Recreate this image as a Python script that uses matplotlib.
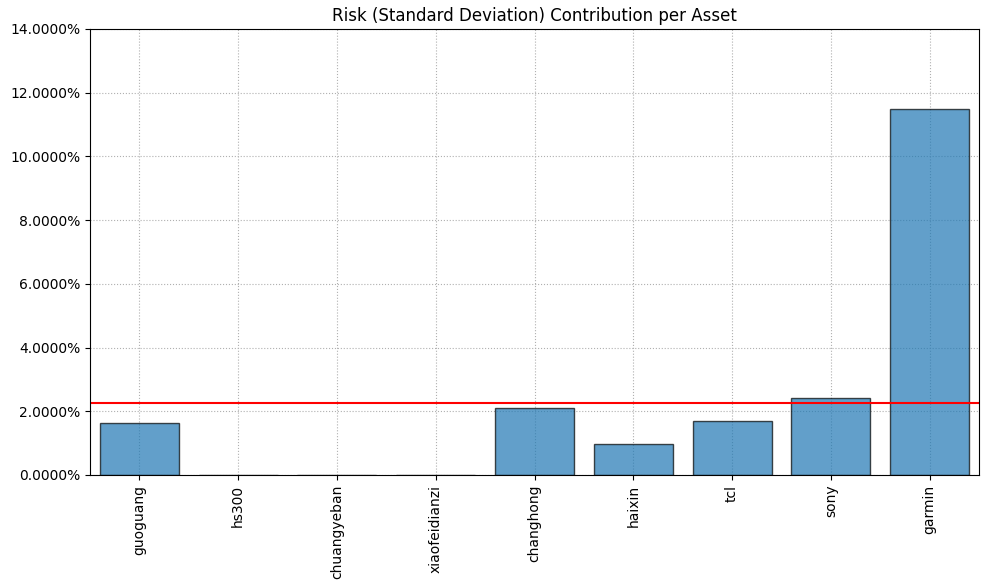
import matplotlib
matplotlib.use("Agg")
import matplotlib.pyplot as plt
from matplotlib.ticker import PercentFormatter

assets = ["guoguang", "hs300", "chuangyeban", "xiaofeidianzi", "changhong",
          "haixin", "tcl", "sony", "garmin"]
risk_contrib = [0.01626, 0.0, 0.0, 0.0, 0.0210, 0.00975, 0.0169, 0.0241, 0.1149]
mean_line = 0.0227

fig, ax = plt.subplots(figsize=(9.98, 5.86), dpi=100)
fig.subplots_adjust(left=90/998, right=979/998, top=1-29/586, bottom=1-475/586)
ax.bar(assets, risk_contrib, color="#1f77b4", alpha=0.7, edgecolor="black", width=0.8)
ax.axhline(mean_line, color="red")
ax.set_ylim(0, 0.14)
ax.set_xlim(-0.5, len(assets) - 0.5)
ax.yaxis.set_major_formatter(PercentFormatter(xmax=1, decimals=4))
ax.set_title("Risk (Standard Deviation) Contribution per Asset")
ax.grid(linestyle=":")
ax.set_axisbelow(True)
plt.xticks(rotation=90)
fig.savefig("out.png", dpi=100)
